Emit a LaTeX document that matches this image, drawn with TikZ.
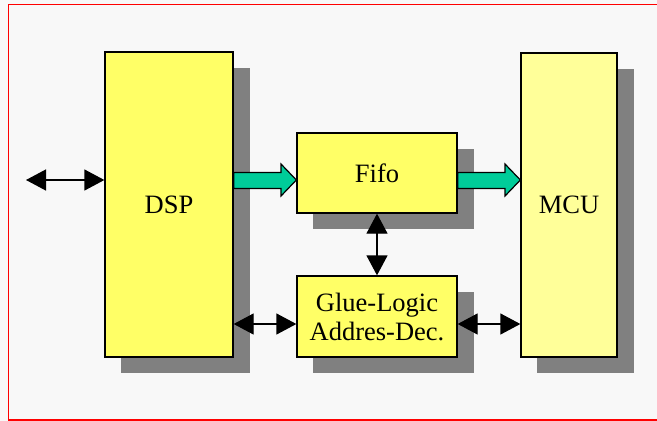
\documentclass[tikz,border=0pt]{standalone}
\usepackage{fontspec}
\setmainfont{Liberation Serif}
\usetikzlibrary{arrows.meta}
\definecolor{bg}{HTML}{F8F8F8}
\definecolor{dspy}{HTML}{FFFF66}
\definecolor{mcuy}{HTML}{FFFF99}
\definecolor{shadow}{HTML}{808080}
\definecolor{grn}{HTML}{00CC99}
\tikzset{
  blk/.style={draw=black, line width=1.3pt, fill=dspy, inner sep=0pt, font=\fontsize{26.5}{32}\selectfont, align=center},
  dbl/.style={line width=1.3pt, {Triangle[length=20pt,width=21pt]}-{Triangle[length=20pt,width=21pt]}},
}
\begin{document}
\begin{tikzpicture}[x=1pt,y=-1pt]
\useasboundingbox (0,0) rectangle (657,421);
\fill[bg] (0,0) rectangle (657,421);
\draw[red, line width=1.2pt] (8.5,4.5) rectangle (680,420);
% shadows
\fill[shadow] (121,68) rectangle (250,373);
\fill[shadow] (313,149) rectangle (474,229);
\fill[shadow] (313,292) rectangle (474,373);
\fill[shadow] (537,69) rectangle (634,373);
% boxes
\node[blk, minimum width=128pt, minimum height=305pt] (dsp) at (169,204.5) {DSP};
\node[blk, minimum width=160pt, minimum height=80pt] (fifo) at (377,173) {Fifo};
\node[blk, minimum width=160pt, minimum height=81pt] (glue) at (377,316.5) {Glue-Logic\\[-3pt]Addres-Dec.};
\node[blk, fill=mcuy, minimum width=96pt, minimum height=304pt] (mcu) at (569,205) {MCU};
\coordinate (ext) at (26,180);
% arrows
\draw[dbl] (ext) -- (dsp.west |- ext);
\draw[dbl] (fifo.south) -- (glue.north);
\draw[dbl] (dsp.east |- 0,324) -- (glue.west |- 0,324);
\draw[dbl] (glue.east |- 0,324) -- (mcu.west |- 0,324);
% green block arrows
\draw[line width=1.2pt, fill=grn, line join=miter]
  (dsp.east |- 0,172.5) -- (281,172.5) -- (281,164) -- (fifo.west |- 0,180) -- (281,196) -- (281,188.5) -- (dsp.east |- 0,188.5) -- cycle;
\draw[line width=1.2pt, fill=grn, line join=miter]
  (fifo.east |- 0,172.5) -- (505,172.5) -- (505,164) -- (mcu.west |- 0,180) -- (505,196) -- (505,188.5) -- (fifo.east |- 0,188.5) -- cycle;
\end{tikzpicture}
\end{document}
